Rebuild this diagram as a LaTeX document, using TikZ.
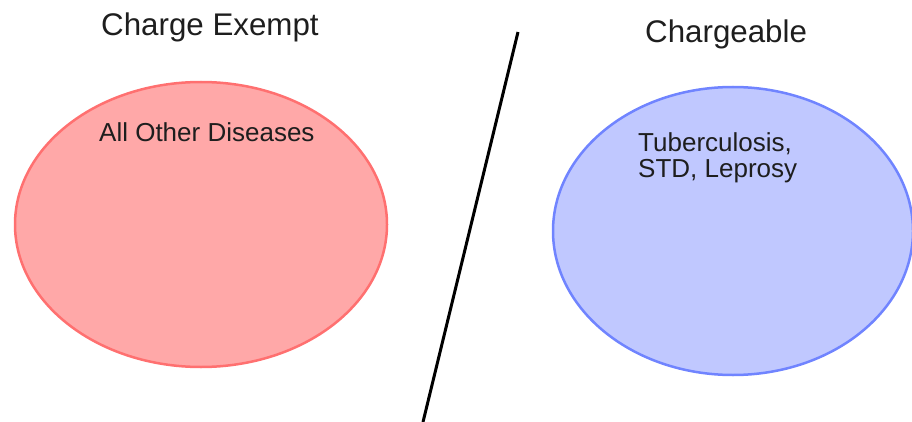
\documentclass[tikz,border=0pt]{standalone}
\usepackage{fontspec}
\setmainfont{Liberation Sans}
\usetikzlibrary{shapes.geometric}
\definecolor{redfill}{RGB}{255,168,168}
\definecolor{reddraw}{RGB}{255,112,112}
\definecolor{bluefill}{RGB}{192,200,255}
\definecolor{bluedraw}{RGB}{112,132,255}
\definecolor{txt}{RGB}{30,30,30}
\tikzset{
  venn/.style={ellipse, inner sep=0pt, line width=2.5pt},
  title/.style={anchor=base west, inner sep=0pt, text=txt, font=\fontsize{31.3}{37}\selectfont},
  label/.style={anchor=base west, inner sep=0pt, text=txt, align=left, font=\fontsize{26}{26.5}\selectfont}
}
\begin{document}
\begin{tikzpicture}[x=1pt,y=-1pt]
\useasboundingbox (0,0) rectangle (912,422);
\clip (0,0) rectangle (912,422);
\node[venn, fill=redfill, draw=reddraw, minimum width=372pt, minimum height=285pt] (exempt) at (201,224.5) {};
\node[venn, fill=bluefill, draw=bluedraw, minimum width=360pt, minimum height=288pt] (charge) at (733,231) {};
\node[title] (t1) at (101,36) {Charge Exempt};
\node[title] (t2) at (645,43) {Chargeable};
\node[label] (l1) at (99,142) {All Other Diseases};
\node[label] (l2) at (638,178) {Tuberculosis,\\STD, Leprosy};
\coordinate (top) at (518,32);
\coordinate (bot) at (423,422);
\draw[line width=3pt, black] (top) -- (bot);
\end{tikzpicture}
\end{document}
